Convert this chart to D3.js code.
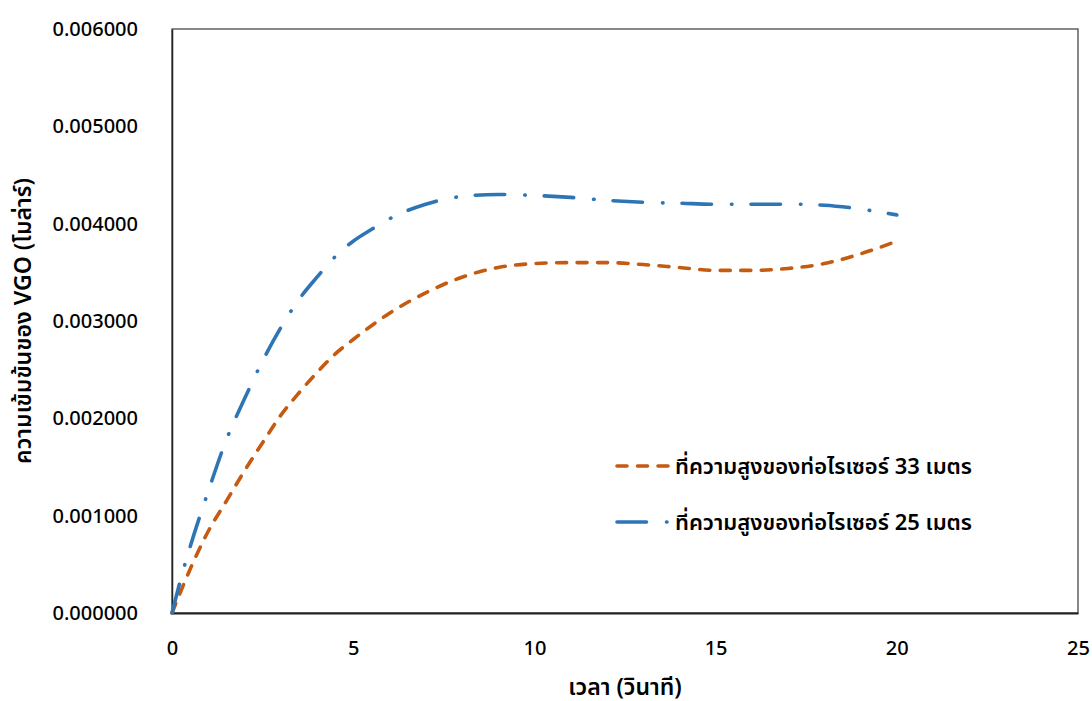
<!DOCTYPE html>
<html>
<head>
<meta charset="utf-8">
<script src="https://cdn.jsdelivr.net/npm/d3@7"></script>
<style>
  body { margin: 0; background: #fff; }
  text { font-family: "Noto Sans", "Noto Sans Thai", "Open Sans", sans-serif; fill: #000; }
</style>
</head>
<body>
<svg id="chart" width="1092" height="701"></svg>
<script>
// ---- data ----
const timeOrange = [0, 0.5, 1, 1.5, 2, 2.5, 3, 3.5, 4, 4.5, 5, 6, 7, 8, 9, 10, 11, 12, 13, 14, 15, 16, 17, 18, 19, 20];
const valOrange  = [0, 0.00045, 0.00084, 0.00115, 0.00146, 0.00175, 0.00203, 0.00226, 0.00247, 0.00266, 0.00281, 0.00308, 0.00329, 0.00345, 0.00355, 0.00359, 0.00360, 0.00360, 0.00358, 0.00355, 0.00352, 0.00352, 0.00354, 0.00359, 0.00369, 0.00382];
const timeBlue = [0, 0.25, 0.5, 1, 1.5, 2, 2.5, 3, 3.5, 4, 4.5, 5, 5.5, 6, 7, 8, 9, 10, 11, 12, 13, 14, 15, 16, 17, 18, 19, 20];
const valBlue  = [0, 0.00036, 0.00068, 0.00125, 0.00178, 0.00220, 0.00259, 0.00293, 0.00322, 0.00345, 0.00366, 0.00382, 0.00394, 0.00405, 0.00420, 0.00428, 0.00430, 0.00429, 0.00427, 0.00424, 0.00422, 0.00421, 0.00420, 0.00420, 0.00420, 0.00419, 0.00415, 0.00409];
const seriesNames = ["ที่ความสูงของท่อไรเซอร์ 33 เมตร", "ที่ความสูงของท่อไรเซอร์ 25 เมตร"];
const xTicks = [0, 5, 10, 15, 20, 25];
const yTicks = [0, 0.001, 0.002, 0.003, 0.004, 0.005, 0.006];
const xTitle = "เวลา (วินาที)";
const yTitle = "ความเข้มข้นของ VGO (โมล่าร์)";

// ---- layout ----
const svg = d3.select("#chart");
const L = 172, R = 1078, T = 29, B = 613;
const x = d3.scaleLinear().domain([0, 25]).range([L, R]);
const y = d3.scaleLinear().domain([0, 0.006]).range([B, T]);

// frame
svg.append("rect").attr("x", L).attr("y", T).attr("width", R - L).attr("height", B - T)
  .attr("fill", "none").attr("stroke", "#3a3a3a").attr("stroke-width", 1.2);

// axes (labels only)
const xAxis = svg.append("g").attr("transform", `translate(0,${B})`)
  .call(d3.axisBottom(x).tickValues(xTicks).tickSize(0).tickPadding(28).tickFormat(d3.format("d")));
xAxis.select(".domain").attr("stroke", "#222").attr("stroke-width", 2);
xAxis.selectAll("text").style("font-size", "20px").style("font-weight", "500").attr("fill", "#000");

const yAxis = svg.append("g").attr("transform", `translate(${L},0)`)
  .call(d3.axisLeft(y).tickValues(yTicks).tickSize(0).tickPadding(34).tickFormat(d3.format(".6f")));
yAxis.select(".domain").attr("stroke", "#222").attr("stroke-width", 1.5);
yAxis.selectAll("text").style("font-size", "20px").style("font-weight", "500").attr("fill", "#000");

// titles
svg.append("text").attr("x", (L + R) / 2).attr("y", 695).attr("text-anchor", "middle")
  .style("font-size", "23px").style("font-weight", "600").text(xTitle);
svg.append("text").attr("transform", `translate(31,${(T + B) / 2}) rotate(-90)`).attr("text-anchor", "middle")
  .style("font-size", "23px").style("font-weight", "600").text(yTitle);

// lines
const line = d3.line().x(d => x(d[0])).y(d => y(d[1])).curve(d3.curveMonotoneX);
const dataOrange = timeOrange.map((t, i) => [t, valOrange[i]]);
const dataBlue = timeBlue.map((t, i) => [t, valBlue[i]]);

const styles = [
  { color: "#c55a11", dash: "10,10.5" },
  { color: "#2e75b6", dash: "29.5,20,0.5,19" }
];

svg.append("path").datum(dataOrange).attr("d", line).attr("fill", "none")
  .attr("stroke", styles[0].color).attr("stroke-width", 3.6).attr("stroke-linecap", "round")
  .attr("stroke-dasharray", styles[0].dash);
svg.append("path").datum(dataBlue).attr("d", line).attr("fill", "none")
  .attr("stroke", styles[1].color).attr("stroke-width", 3.6).attr("stroke-linecap", "round")
  .attr("stroke-dasharray", styles[1].dash);

// legend
const legY = [466, 522];
seriesNames.forEach((name, i) => {
  svg.append("line").attr("x1", 617).attr("x2", 668).attr("y1", legY[i]).attr("y2", legY[i])
    .attr("stroke", styles[i].color).attr("stroke-width", 3.6).attr("stroke-linecap", "round")
    .attr("stroke-dasharray", styles[i].dash);
  svg.append("text").attr("x", 675).attr("y", legY[i]).attr("dy", "0.35em")
    .style("font-size", "22px").style("font-weight", "600").text(name);
});
</script>
</body>
</html>
